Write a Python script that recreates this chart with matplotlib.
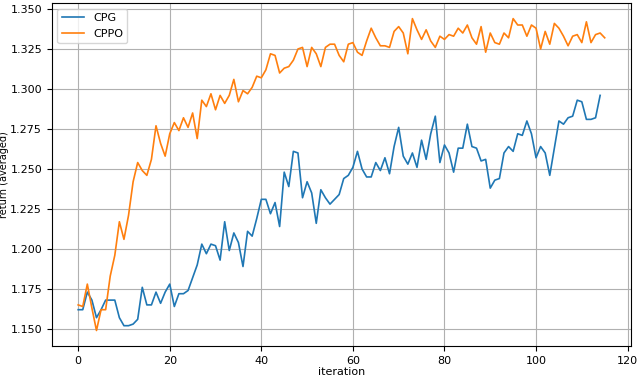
import matplotlib
matplotlib.use("Agg")
import matplotlib.pyplot as plt
import numpy as np

cpg = [1.162, 1.162, 1.173, 1.168, 1.157, 1.162, 1.168, 1.168, 1.168, 1.157,
       1.152, 1.152, 1.153, 1.156, 1.176, 1.165, 1.165, 1.173, 1.166, 1.173,
       1.178, 1.164, 1.172, 1.172, 1.174, 1.182, 1.190, 1.203, 1.197, 1.203,
       1.202, 1.193, 1.217, 1.199, 1.210, 1.204, 1.189, 1.211, 1.208, 1.219,
       1.231, 1.231, 1.222, 1.229, 1.214, 1.248, 1.239, 1.261, 1.260, 1.232,
       1.242, 1.235, 1.216, 1.237, 1.232, 1.228, 1.231, 1.234, 1.244, 1.246,
       1.251, 1.261, 1.250, 1.245, 1.245, 1.254, 1.249, 1.257, 1.247, 1.264,
       1.276, 1.258, 1.253, 1.260, 1.251, 1.268, 1.256, 1.272, 1.283, 1.254,
       1.265, 1.260, 1.248, 1.263, 1.263, 1.278, 1.264, 1.263, 1.255, 1.256,
       1.238, 1.243, 1.244, 1.260, 1.264, 1.261, 1.272, 1.271, 1.280, 1.272,
       1.257, 1.264, 1.260, 1.246, 1.263, 1.280, 1.278, 1.282, 1.283, 1.293,
       1.292, 1.281, 1.281, 1.282, 1.296]

cppo = [1.165, 1.164, 1.178, 1.163, 1.149, 1.162, 1.162, 1.183, 1.196, 1.217,
        1.206, 1.221, 1.242, 1.254, 1.249, 1.246, 1.256, 1.277, 1.266, 1.258,
        1.272, 1.279, 1.274, 1.282, 1.276, 1.285, 1.269, 1.293, 1.289, 1.297,
        1.287, 1.296, 1.291, 1.296, 1.306, 1.292, 1.299, 1.297, 1.301, 1.308,
        1.307, 1.312, 1.322, 1.321, 1.310, 1.313, 1.314, 1.318, 1.325, 1.326,
        1.314, 1.326, 1.322, 1.314, 1.326, 1.328, 1.328, 1.321, 1.317, 1.328,
        1.329, 1.323, 1.321, 1.330, 1.338, 1.332, 1.327, 1.327, 1.326, 1.336,
        1.339, 1.335, 1.322, 1.344, 1.337, 1.331, 1.337, 1.330, 1.326, 1.333,
        1.331, 1.334, 1.333, 1.338, 1.335, 1.340, 1.332, 1.328, 1.339, 1.323,
        1.335, 1.329, 1.328, 1.335, 1.332, 1.344, 1.340, 1.340, 1.333, 1.340,
        1.338, 1.325, 1.336, 1.328, 1.341, 1.338, 1.333, 1.327, 1.333, 1.334,
        1.329, 1.342, 1.329, 1.334, 1.335, 1.332]

fig, ax = plt.subplots(figsize=(6.4, 3.77), dpi=100)
ax.plot(np.arange(len(cpg)), cpg, color="#1f77b4", lw=1.2, label="CPG")
ax.plot(np.arange(len(cppo)), cppo, color="#ff7f0e", lw=1.2, label="CPPO")
ax.set_yticks(np.arange(1.150, 1.3501, 0.025))
ax.set_yticklabels([f"{v:.3f}" for v in np.arange(1.150, 1.3501, 0.025)])
ax.grid(True, color="#b0b0b0", lw=0.8)
ax.tick_params(labelsize=8)
ax.set_xlabel("iteration", fontsize=8, labelpad=1)
ax.set_ylabel("return (averaged)", fontsize=7)
ax.yaxis.set_label_coords(-0.074, 0.5)
ax.legend(loc="upper left", fontsize=8)
fig.subplots_adjust(left=0.081, right=0.986, top=0.992, bottom=0.082)
fig.savefig("out.png", dpi=100)
